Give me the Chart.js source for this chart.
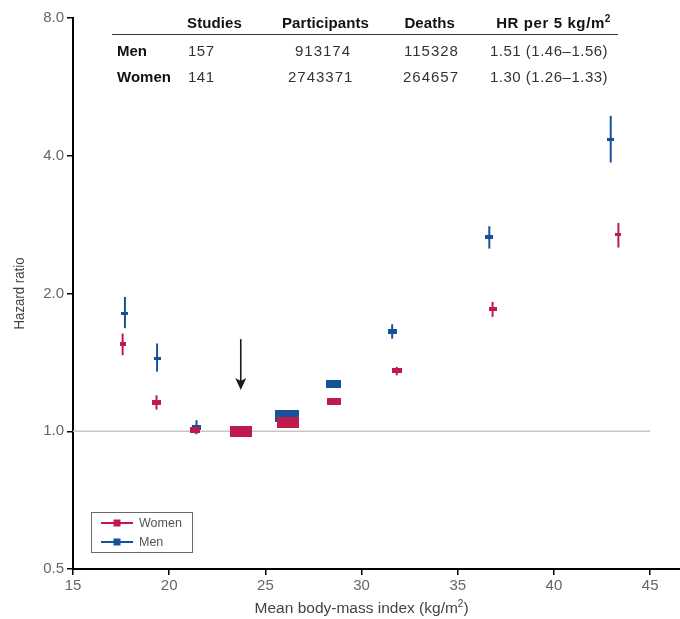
<!DOCTYPE html>
<html><head><meta charset="utf-8">
<script src="https://cdn.jsdelivr.net/npm/chart.js@4.4.1/dist/chart.umd.min.js"></script>
<style>html,body{margin:0;padding:0;background:#fff}#wrap{width:680px;height:619px}</style>
</head><body><div id="wrap"><canvas id="c" width="680" height="619"></canvas></div>
<script>
// ---- data ----
const bmiWomen = [17.58, 19.34, 21.35, 23.72, 26.16, 28.58, 31.83, 36.81, 43.35];
const hrWomen  = [1.55, 1.155, 1.006, 1.00, 1.046, 1.163, 1.355, 1.848, 2.69];
const loWomen  = [1.466, 1.115, 0.99, 1.00, 1.03, 1.15, 1.325, 1.778, 2.52];
const hiWomen  = [1.635, 1.198, 1.025, 1.00, 1.06, 1.175, 1.382, 1.917, 2.853];

const bmiMen = [17.70, 19.37, 21.42, 23.72, 26.14, 28.55, 31.59, 36.64, 42.95];
const hrMen  = [1.81, 1.44, 1.02, 1.00, 1.078, 1.271, 1.654, 2.66, 4.35];
const loMen  = [1.68, 1.35, 0.985, 1.00, 1.06, 1.25, 1.594, 2.507, 3.866];
const hiMen  = [1.966, 1.555, 1.057, 1.00, 1.095, 1.29, 1.713, 2.806, 4.89];

const yTicks = [0.5, 1, 2, 4, 8];
const xTicks = [15, 20, 25, 30, 35, 40, 45];

const tableHeader = ['Studies', 'Participants', 'Deaths', 'HR per 5 kg/m'];
const tableRowLabels = ['Men', 'Women'];
const studies = ['157', '141'];
const participants = ['913174', '2743371'];
const deaths = ['115328', '264657'];
const hrPer5 = ['1.51 (1.46\u20131.56)', '1.30 (1.26\u20131.33)'];

const refBmi = 23.72;
const arrowFrom = 1.59, arrowTo = 1.23;

// ---- styles ----
const womenColor = '#be1a4c';
const menColor = '#15529a';
const womenBoxW = [6, 9, 10, 22, 22, 14, 10, 8, 6];
const womenBoxH = [4, 5, 6, 11, 11, 7, 5, 4, 3];
const menBoxW = [7, 7, 9, 22, 24, 15, 9, 8, 7];
const menBoxH = [3, 3, 5, 11, 12, 8, 5, 4, 3];
const FONT = '"Liberation Sans", Arial, Helvetica, sans-serif';

function rectCanvas(w, h, color) {
  const c = document.createElement('canvas');
  c.width = w; c.height = h;
  const g = c.getContext('2d');
  g.fillStyle = color; g.fillRect(0, 0, w, h);
  return c;
}
const womenStyles = womenBoxW.map((w, i) => rectCanvas(w, womenBoxH[i], womenColor));
const menStyles = menBoxW.map((w, i) => rectCanvas(w, menBoxH[i], menColor));

function txt(ctx, s, x, y, font, color, align, spacing) {
  ctx.save();
  ctx.font = font; ctx.fillStyle = color;
  ctx.textAlign = align || 'left'; ctx.textBaseline = 'alphabetic';
  ctx.letterSpacing = (spacing || 0) + 'px';
  ctx.fillText(s, x, y);
  ctx.restore();
}
function fitText(ctx, s, cx, cy, w, font, color, rot) {
  ctx.save();
  ctx.font = font; ctx.fillStyle = color;
  ctx.textAlign = 'center'; ctx.textBaseline = 'middle';
  const m = ctx.measureText(s).width;
  ctx.translate(cx, cy);
  if (rot) ctx.rotate(rot);
  ctx.scale(w / m, 1);
  ctx.fillText(s, 0, 0);
  ctx.restore();
}

const decor = {
  id: 'decor',
  beforeDatasetsDraw(chart) {
    const ctx = chart.ctx, xs = chart.scales.x, ys = chart.scales.y;
    ctx.save();
    // reference line at HR 1.0
    ctx.strokeStyle = '#c6c6c6'; ctx.lineWidth = 1.5;
    ctx.beginPath();
    ctx.moveTo(xs.getPixelForValue(15), ys.getPixelForValue(1));
    ctx.lineTo(xs.getPixelForValue(45), ys.getPixelForValue(1));
    ctx.stroke();
    // error bars
    chart.data.datasets.forEach((ds) => {
      ctx.strokeStyle = ds.borderColor; ctx.lineWidth = 2;
      ds.data.forEach((p, j) => {
        const x = xs.getPixelForValue(p.x);
        ctx.beginPath();
        ctx.moveTo(x, ys.getPixelForValue(ds.errLo[j]));
        ctx.lineTo(x, ys.getPixelForValue(ds.errHi[j]));
        ctx.stroke();
      });
    });
    ctx.restore();
  },
  afterDatasetsDraw(chart) {
    const ctx = chart.ctx, xs = chart.scales.x, ys = chart.scales.y;
    // arrow
    const ax = xs.getPixelForValue(refBmi);
    const y0 = ys.getPixelForValue(arrowFrom), y1 = ys.getPixelForValue(arrowTo);
    ctx.save();
    ctx.strokeStyle = '#1a1a1a'; ctx.fillStyle = '#1a1a1a'; ctx.lineWidth = 1.6;
    ctx.beginPath(); ctx.moveTo(ax, y0); ctx.lineTo(ax, y1 - 8); ctx.stroke();
    ctx.beginPath();
    ctx.moveTo(ax, y1); ctx.lineTo(ax - 5.5, y1 - 12); ctx.lineTo(ax, y1 - 9); ctx.lineTo(ax + 5.5, y1 - 12);
    ctx.closePath(); ctx.fill();
    ctx.restore();
  },
  afterDraw(chart) {
    const ctx = chart.ctx, ca = chart.chartArea, xs = chart.scales.x;
    // extend x axis line to the right edge
    ctx.save();
    ctx.strokeStyle = '#000'; ctx.lineWidth = 2;
    ctx.beginPath(); ctx.moveTo(ca.right - 1, ca.bottom); ctx.lineTo(chart.width, ca.bottom); ctx.stroke();
    ctx.restore();
    // legend
    const lx = ca.left + 18, ly = ca.bottom - 57;
    ctx.save();
    ctx.strokeStyle = '#6a6a6a'; ctx.lineWidth = 1;
    ctx.strokeRect(lx + 0.5, ly + 0.5, 101, 40);
    [[womenColor, 'Women', 11], [menColor, 'Men', 30]].forEach(([c, label, dy]) => {
      ctx.strokeStyle = c; ctx.lineWidth = 2;
      ctx.beginPath(); ctx.moveTo(lx + 10, ly + dy); ctx.lineTo(lx + 42, ly + dy); ctx.stroke();
      ctx.fillStyle = c; ctx.fillRect(lx + 22.5, ly + dy - 3.5, 7, 7);
      ctx.font = '12.5px ' + FONT; ctx.fillStyle = '#555'; ctx.textBaseline = 'middle';
      ctx.fillText(label, lx + 48, ly + dy + 0.5);
    });
    ctx.restore();

    // axis titles
    fitText(ctx, 'Hazard ratio', 20, (ca.top + ca.bottom) / 2, 72, '15px ' + FONT, '#444', -Math.PI / 2);
    const xc = (xs.getPixelForValue(15) + xs.getPixelForValue(45)) / 2;
    ctx.save();
    ctx.font = '15.5px ' + FONT; ctx.fillStyle = '#444'; ctx.textBaseline = 'alphabetic';
    const a = 'Mean body-mass index (kg/m', b = ')';
    const wa = ctx.measureText(a).width, wb = ctx.measureText(b).width;
    ctx.font = '10px ' + FONT; const ws = ctx.measureText('2').width;
    const start = xc - (wa + ws + wb) / 2, base = 613;
    ctx.font = '15.5px ' + FONT; ctx.fillText(a, start, base);
    ctx.font = '10px ' + FONT; ctx.fillText('2', start + wa, base - 6);
    ctx.font = '15.5px ' + FONT; ctx.fillText(b, start + wa + ws, base);
    ctx.restore();

    // table
    const hdrCenters = [214.5, 325.5, 429.7];
    const hb = 28;
    tableHeader.slice(0, 3).forEach((h, i) => txt(ctx, h, hdrCenters[i], hb, 'bold 15px ' + FONT, '#111', 'center', 0.1));
    ctx.save();
    ctx.font = 'bold 15px ' + FONT; ctx.letterSpacing = '0.6px';
    const wh = ctx.measureText(tableHeader[3]).width;
    ctx.restore();
    const hx = 554 - (wh + 7) / 2;
    txt(ctx, tableHeader[3], hx, hb, 'bold 15px ' + FONT, '#111', 'left', 0.6);
    txt(ctx, '2', hx + wh, hb - 6, 'bold 10px ' + FONT, '#111', 'left', 0);
    ctx.save();
    ctx.strokeStyle = '#333'; ctx.lineWidth = 1;
    ctx.beginPath(); ctx.moveTo(112, 34.5); ctx.lineTo(618, 34.5); ctx.stroke();
    ctx.restore();
    const rowBase = [56, 82];
    const partX = [295, 288], deathX = [404, 403];
    tableRowLabels.forEach((r, i) => {
      txt(ctx, r, 117, rowBase[i], 'bold 15px ' + FONT, '#111', 'left', 0);
      txt(ctx, studies[i], 188, rowBase[i], '15px ' + FONT, '#333', 'left', 0.5);
      txt(ctx, participants[i], partX[i], rowBase[i], '15px ' + FONT, '#333', 'left', 1);
      txt(ctx, deaths[i], deathX[i], rowBase[i], '15px ' + FONT, '#333', 'left', 1);
      txt(ctx, hrPer5[i], 490, rowBase[i], '15px ' + FONT, '#333', 'left', 0.5);
    });
  }
};

new Chart(document.getElementById('c'), {
  type: 'scatter',
  data: {
    datasets: [
      {
        label: 'Women',
        data: bmiWomen.map((x, i) => ({ x, y: hrWomen[i] })),
        errLo: loWomen, errHi: hiWomen,
        borderColor: womenColor, backgroundColor: womenColor,
        pointStyle: (c) => womenStyles[c.dataIndex], pointRadius: 5
      },
      {
        label: 'Men',
        data: bmiMen.map((x, i) => ({ x, y: hrMen[i] })),
        errLo: loMen, errHi: hiMen,
        borderColor: menColor, backgroundColor: menColor,
        pointStyle: (c) => menStyles[c.dataIndex], pointRadius: 5
      }
    ]
  },
  options: {
    responsive: false, animation: false, devicePixelRatio: 1,
    events: [],
    layout: { padding: { top: 18, left: 0, right: 0, bottom: 0 } },
    plugins: { legend: { display: false }, tooltip: { enabled: false } },
    scales: {
      x: {
        type: 'linear', min: 15, max: 46.24,
        afterBuildTicks: (s) => { s.ticks = xTicks.map(v => ({ value: v })); },
        afterFit: (s) => { s.height = 50; },
        grid: { drawOnChartArea: false, drawTicks: true, tickLength: 6, color: '#000', lineWidth: 1.5 },
        border: { display: true, color: '#000', width: 2 },
        ticks: { font: { family: FONT, size: 15 }, color: '#666', padding: 2, maxRotation: 0, callback: (v) => String(v) }
      },
      y: {
        type: 'logarithmic', min: 0.5, max: 8,
        afterBuildTicks: (s) => { s.ticks = yTicks.map(v => ({ value: v })); },
        afterFit: (s) => { s.width = 73; },
        grid: { drawOnChartArea: false, drawTicks: true, tickLength: 6, color: '#000', lineWidth: 1.5 },
        border: { display: true, color: '#000', width: 2 },
        ticks: { font: { family: FONT, size: 15 }, color: '#666', padding: 3, callback: (v) => Number(v).toFixed(1) }
      }
    }
  },
  plugins: [decor]
});
</script></body></html>
